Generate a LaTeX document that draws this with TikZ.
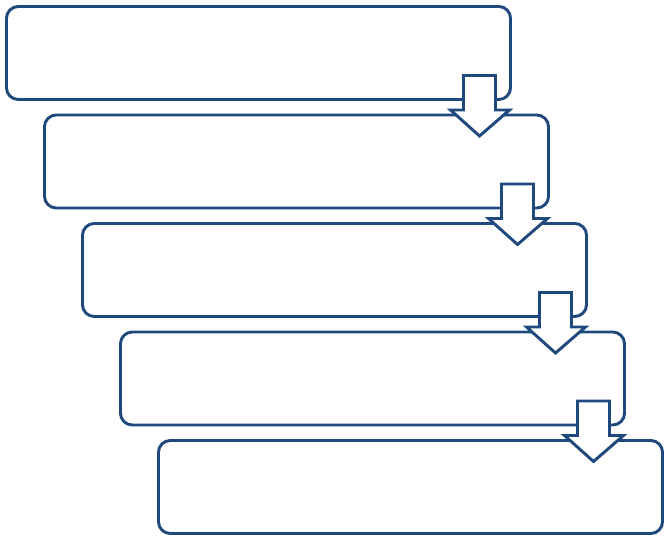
\documentclass[tikz,border=0pt]{standalone}
\usepackage{tikz}

\definecolor{stepblue}{RGB}{31,73,125}

\begin{document}
\begin{tikzpicture}[x=0.03cm, y=-0.03cm,
    box/.style={draw=stepblue, fill=white, line width=2.5pt, rounded corners=10pt,
        minimum width=15.12cm, minimum height=2.79cm, outer sep=0pt},
    downarrow/.style={draw=stepblue, fill=white, line width=2.5pt, line join=miter}]
        \useasboundingbox (0,0) rectangle (667,540);

        % the steps, each one shifted right and down
        \node[box] (box1) at (258.5,53) {};
        \node[box] (box2) at (296.5,161.5) {};
        \node[box] (box3) at (334.5,270) {};
        \node[box] (box4) at (372.5,378.5) {};
        \node[box] (box5) at (410.5,487) {};

        % the block arrows from one step down to the next
        \foreach \i in {1,...,4}{
            \draw[downarrow, shift={(box\i.south east)}]
                (-47,-24) -- (-15,-24) -- (-15,10.5) -- (-1,10.5) -- (-31,36.5)
                -- (-60,10.5) -- (-47,10.5) -- cycle;
        }

    \end{tikzpicture}
\end{document}
